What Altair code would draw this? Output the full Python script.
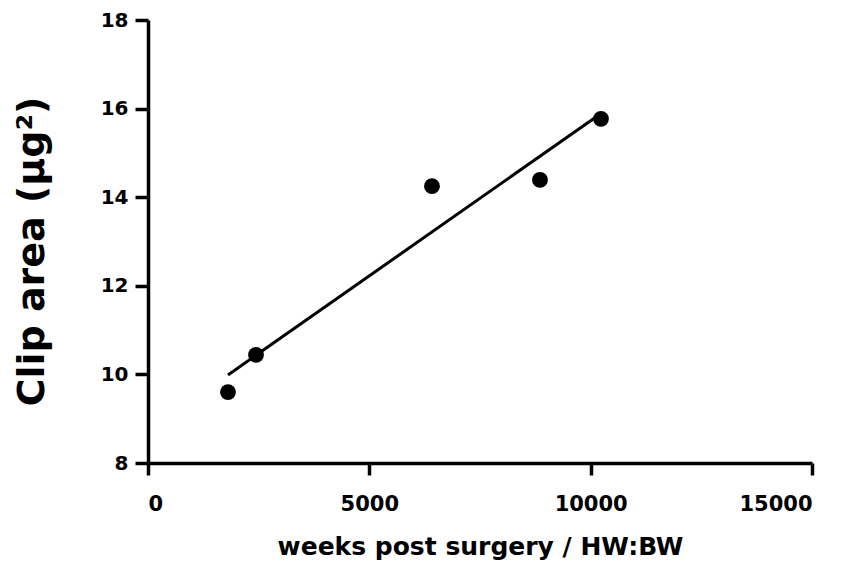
import altair as alt
import pandas as pd

# Data
weeks_hw_bw = [1807, 2440, 6415, 8855, 10233]
clip_area = [9.60, 10.44, 14.25, 14.39, 15.77]
x_ticks = [0, 5000, 10000, 15000]
y_ticks = [8, 10, 12, 14, 16, 18]

df = pd.DataFrame({"x": weeks_hw_bw, "y": clip_area})

FONT = "DejaVu Sans"

common_axis = dict(
    grid=False,
    domainColor="black",
    domainWidth=3.5,
    tickColor="black",
    tickWidth=3.5,
    labelFont=FONT,
    labelFontWeight="bold",
    labelColor="black",
    titleFont=FONT,
    titleFontWeight="bold",
    titleColor="black",
)

x_enc = alt.X(
    "x:Q",
    scale=alt.Scale(domain=[0, 15000], nice=False, zero=False),
    axis=alt.Axis(
        title="weeks post surgery / HW:BW",
        values=x_ticks,
        format="d",
        tickSize=12,
        labelFontSize=21,
        labelPadding=18,
        titleFontSize=25,
        titlePadding=20,
        **common_axis,
    ),
)

y_enc = alt.Y(
    "y:Q",
    scale=alt.Scale(domain=[8, 18], nice=False, zero=False),
    axis=alt.Axis(
        title="Clip area (µg²)",
        values=y_ticks,
        tickSize=13,
        labelFontSize=20,
        labelPadding=7,
        titleFontSize=38,
        titlePadding=49,
        titleY=231,
        **common_axis,
    ),
)

points = alt.Chart(df).mark_circle(size=250, color="black", opacity=1).encode(x=x_enc, y=y_enc)

fit = (
    alt.Chart(df)
    .transform_regression("x", "y", method="linear")
    .mark_line(color="black", strokeWidth=3)
    .encode(x=x_enc, y=y_enc)
)

chart = (
    alt.layer(fit, points)
    .properties(
        width=664,
        height=443,
        background="white",
        autosize=alt.AutoSizeParams(type="none"),
        padding={"left": 140, "top": 12, "right": 35, "bottom": 98},
    )
    .configure_view(strokeWidth=0, stroke="transparent")
)

chart.save("out.html", embed_options={"renderer": "svg", "actions": False})
